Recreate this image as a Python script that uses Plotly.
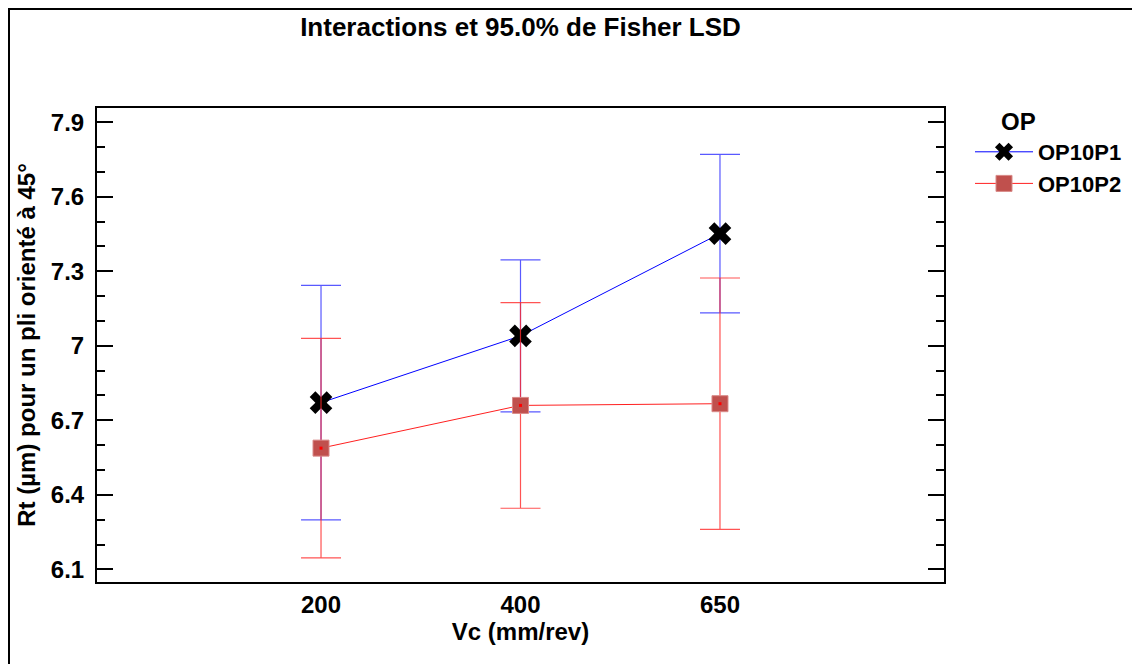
import plotly.graph_objects as go

# niveaux de Vc et moyennes (Rt, µm) avec demi-intervalles LSD 95%
vc = ["200", "400", "650"]
op10p1_mean = [6.771, 7.040, 7.452]
op10p1_err = [0.472, 0.306, 0.319]
op10p2_mean = [6.588, 6.760, 6.767]
op10p2_err = [0.442, 0.414, 0.506]

# la page html ajoute 8 px de marge au body -> on travaille en coordonnées écran - 8
OFF = 8
W, H = 1140 - OFF, 664 - OFF
L, T = 97 - OFF, 108 - OFF
R, B = W - (944 - OFF), H - (582 - OFF)
pw, ph = W - L - R, H - T - B


def px_x(p):
    return (p - OFF - L) / pw


def px_y(p):
    return (H - B - (p - OFF)) / ph


fig = go.Figure()

fig.add_trace(go.Scatter(
    x=vc, y=op10p1_mean, name="OP10P1", mode="lines+markers",
    line=dict(color="#0000ff", width=1),
    marker=dict(symbol="x", size=20, color="black"),
    error_y=dict(type="data", array=op10p1_err, color="rgba(60,60,255,0.85)",
                 thickness=1.2, width=20),
))
fig.add_trace(go.Scatter(
    x=vc, y=op10p2_mean, name="OP10P2", mode="lines+markers",
    line=dict(color="#ff2020", width=1),
    marker=dict(symbol="square", size=16, color="#c0504d",
                line=dict(color="#d88a88", width=1)),
    error_y=dict(type="data", array=op10p2_err, color="rgba(255,40,40,0.8)",
                 thickness=1.2, width=20),
))
# petit point rouge au centre des carrés
fig.add_trace(go.Scatter(
    x=vc, y=op10p2_mean, mode="markers", showlegend=False, hoverinfo="skip",
    marker=dict(symbol="square", size=3, color="#ff0000"),
))

fig.update_layout(
    width=W, height=H,
    margin=dict(l=L, r=R, t=T, b=B),
    paper_bgcolor="white", plot_bgcolor="white",
    font=dict(family="Liberation Sans, Arial", color="black"),
    title=dict(text="<b>Interactions et 95.0% de Fisher LSD</b>",
               font=dict(size=26), x=(L + pw / 2) / W, xanchor="center",
               y=1 - (27 - OFF) / H, yanchor="middle"),
    showlegend=True,
    legend=dict(x=px_x(970), y=px_y(131), xanchor="left", yanchor="top",
                font=dict(size=22, weight="bold"), tracegroupgap=0,
                bgcolor="rgba(0,0,0,0)", itemwidth=58),
    annotations=[dict(text="<b>OP</b>", x=px_x(999), y=px_y(121),
                      xref="paper", yref="paper", xanchor="left",
                      yanchor="middle", showarrow=False,
                      font=dict(size=24))],
    shapes=[
        dict(type="line", xref="paper", yref="paper",
             x0=px_x(OFF), x1=px_x(1200), y0=px_y(OFF + 1), y1=px_y(OFF + 1),
             line=dict(color="black", width=2)),
        dict(type="line", xref="paper", yref="paper",
             x0=px_x(OFF + 1), x1=px_x(OFF + 1), y0=px_y(OFF), y1=px_y(720),
             line=dict(color="black", width=2)),
    ],
)

fig.update_xaxes(
    type="category", range=[-1.123, 3.123],
    showline=True, linecolor="black", linewidth=2, mirror=True,
    showgrid=False, zeroline=False, ticks="",
    tickfont=dict(size=24),
    tickprefix="<b>", ticksuffix="</b>",
    title=dict(text="<b>Vc (mm/rev)</b>", font=dict(size=24), standoff=4),
)
fig.update_yaxes(
    range=[6.049, 7.9576], tick0=6.1, dtick=0.3,
    showline=True, linecolor="black", linewidth=2, mirror="ticks",
    showgrid=False, zeroline=False,
    ticks="inside", ticklen=16, tickwidth=1.5, tickcolor="black",
    minor=dict(dtick=0.1, ticks="inside", ticklen=8, tickwidth=1.5,
               tickcolor="black", showgrid=False),
    tickfont=dict(size=24), ticklabelstandoff=6,
    tickprefix="<b>", ticksuffix="</b>",
    title=dict(text="<b>Rt (µm) pour un pli orienté à 45°</b>",
               font=dict(size=24), standoff=8),
)

fig.write_html("out.html")
